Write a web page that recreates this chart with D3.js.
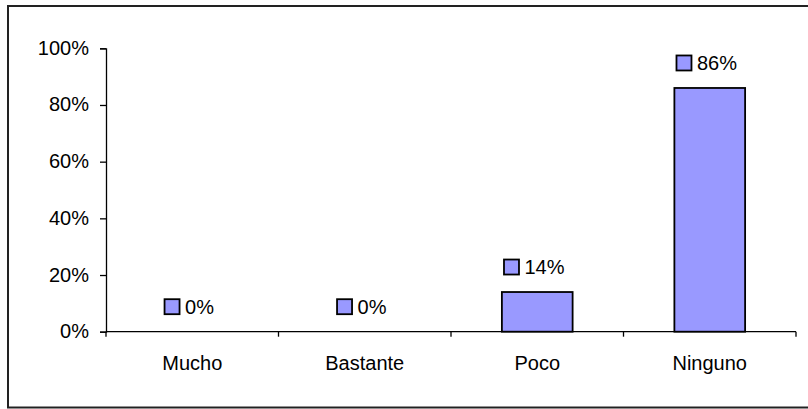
<!DOCTYPE html>
<html>
<head>
<meta charset="utf-8">
<script src="https://cdn.jsdelivr.net/npm/d3@7"></script>
<style>
  html, body { margin: 0; padding: 0; background: #fff; }
  svg { display: block; }
  text { font-family: "Liberation Sans", Arial, sans-serif; fill: #000; }
</style>
</head>
<body>
<svg id="chart" width="808" height="409"></svg>
<script>
// Data
const categories = ["Mucho", "Bastante", "Poco", "Ninguno"];
const values = [0, 0, 14, 86];
const yTicks = [0, 20, 40, 60, 80, 100];
const yTickLabels = ["0%", "20%", "40%", "60%", "80%", "100%"];

const svg = d3.select("#chart");
const fill = "#9999FF";
const fontSize = 20;

// Outer frame
svg.append("rect")
  .attr("x", 8).attr("y", 6)
  .attr("width", 808).attr("height", 401.5)
  .attr("fill", "none").attr("stroke", "#222").attr("stroke-width", 2);

const plot = { left: 106, right: 796, top: 48.3, bottom: 331.7 };

const x = d3.scaleBand().domain(categories).range([plot.left, plot.right]).padding(0);
const y = d3.scaleLinear().domain([0, 100]).range([plot.bottom, plot.top]);
const barW = x.bandwidth() * 0.41;

// Bars
svg.selectAll("rect.bar")
  .data(categories.filter((c, i) => values[i] > 0))
  .join("rect")
  .attr("class", "bar")
  .attr("x", c => x(c) + (x.bandwidth() - barW) / 2)
  .attr("y", c => y(values[categories.indexOf(c)]))
  .attr("width", barW)
  .attr("height", c => plot.bottom - y(values[categories.indexOf(c)]))
  .attr("fill", fill)
  .attr("stroke", "#000")
  .attr("stroke-width", 1.8);

// Y axis
const yAxis = svg.append("g").attr("transform", `translate(${plot.left},0)`)
  .call(d3.axisLeft(y).tickValues(yTicks)
    .tickFormat((d, i) => yTickLabels[i]).tickSize(6).tickPadding(11));
yAxis.select(".domain").attr("stroke", "#000").attr("stroke-width", 1.3);
yAxis.selectAll(".tick line").attr("stroke", "#000").attr("stroke-width", 1.3);
yAxis.selectAll(".tick text")
  .attr("font-size", fontSize)
  .attr("font-family", "Liberation Sans, Arial, sans-serif")
  .attr("fill", "#000")
  .attr("dy", "0.3em");

// X axis line and category boundary ticks
svg.append("line")
  .attr("x1", plot.left).attr("x2", plot.right)
  .attr("y1", plot.bottom).attr("y2", plot.bottom)
  .attr("stroke", "#000").attr("stroke-width", 1.3);
const edges = categories.map(c => x(c)).concat([plot.right]);
svg.selectAll("line.xtick").data(edges).join("line")
  .attr("class", "xtick")
  .attr("x1", d => d).attr("x2", d => d)
  .attr("y1", plot.bottom).attr("y2", plot.bottom + 5)
  .attr("stroke", "#000").attr("stroke-width", 1.3);

// Category labels
svg.selectAll("text.cat").data(categories).join("text")
  .attr("class", "cat")
  .attr("x", c => x(c) + x.bandwidth() / 2)
  .attr("y", 369.5)
  .attr("text-anchor", "middle")
  .attr("font-size", fontSize)
  .text(c => c);

// Value labels with legend key
categories.forEach((c, i) => {
  const v = values[i];
  const cx = x(c) + x.bandwidth() / 2;
  const cy = y(v) - 25;
  const g = svg.append("g");
  const t = g.append("text")
    .attr("font-size", fontSize)
    .attr("y", cy + 7)
    .text(v + "%");
  const w = t.node().getComputedTextLength();
  const left = cx - (20.5 + w) / 2 - 3;
  g.insert("rect", "text")
    .attr("x", left).attr("y", cy - 7.5)
    .attr("width", 15).attr("height", 15)
    .attr("fill", fill).attr("stroke", "#000").attr("stroke-width", 1.8);
  t.attr("x", left + 20.5);
});
</script>
</body>
</html>
